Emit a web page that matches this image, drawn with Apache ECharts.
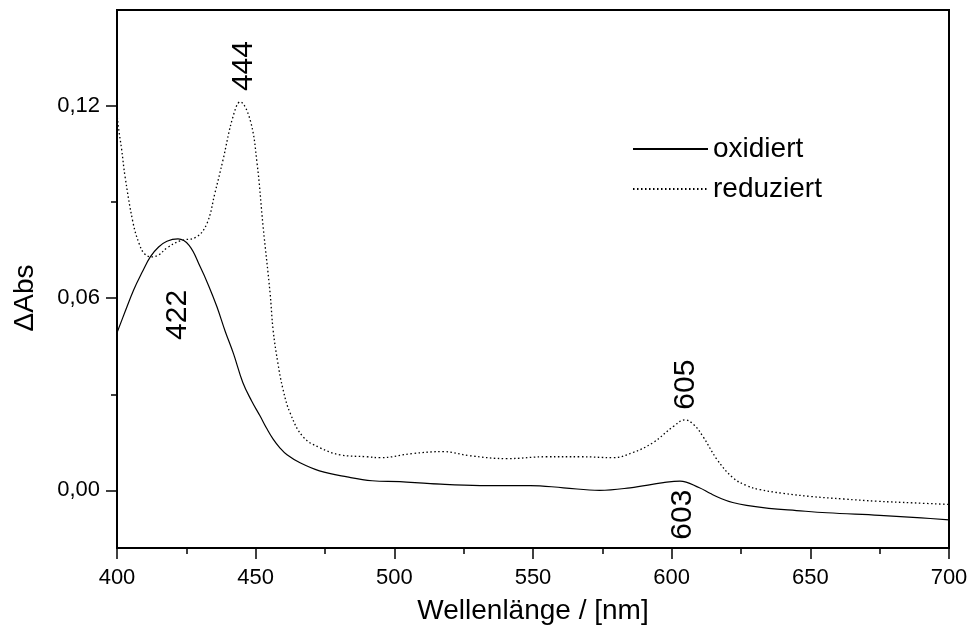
<!DOCTYPE html>
<html>
<head>
<meta charset="utf-8">
<script src="https://cdn.jsdelivr.net/npm/echarts@6/dist/echarts.min.js"></script>
<style>html,body{margin:0;padding:0;background:#fff}#main{width:968px;height:637px}</style>
</head>
<body>
<div id="main"></div>
<script>
// oxidiert (solid)
var wl_ox = [400, 403, 406, 409, 412, 415, 418, 422, 426, 430, 433, 436, 439, 442, 445.4, 448.5, 451.6, 454, 456.3, 458.8, 461.3, 466, 473, 483, 492, 502, 513, 531, 549, 561, 574, 585, 597, 603, 610, 614, 618, 622, 627, 635, 645, 656, 675, 690, 700];
var abs_ox = [0.0492, 0.0560, 0.0626, 0.0680, 0.0729, 0.0760, 0.0778, 0.0785, 0.0765, 0.0698, 0.0640, 0.0574, 0.0497, 0.0427, 0.0336, 0.0280, 0.0232, 0.0193, 0.0160, 0.0132, 0.0111, 0.0086, 0.0061, 0.0042, 0.0030, 0.0027, 0.0021, 0.0015, 0.0015, 0.0008, 0.0000, 0.0008, 0.0024, 0.0029, 0.0008, -0.0010, -0.0026, -0.0038, -0.0047, -0.0056, -0.0063, -0.0070, -0.0078, -0.0086, -0.0092];
// reduziert (dotted)
var wl_red = [400, 400.5, 401.7, 402.9, 405.8, 408, 410, 412.6, 415, 418, 422.7, 428.8, 432.5, 435.3, 438.2, 441.8, 444.4, 448, 450.5, 452.7, 455.2, 456.3, 458, 459.9, 462.4, 467.1, 473.2, 480.4, 490, 494.8, 506.7, 517.6, 527.3, 540.6, 555, 567, 578.9, 586, 593.3, 600.5, 604.8, 608, 611.3, 616.4, 622, 627, 631.9, 640, 650, 662, 674, 687, 700];
var abs_red = [0.1178, 0.1135, 0.1063, 0.0980, 0.0835, 0.0770, 0.0738, 0.0729, 0.0735, 0.0757, 0.0779, 0.0792, 0.0835, 0.0928, 0.1031, 0.1166, 0.1213, 0.1157, 0.1022, 0.0822, 0.0616, 0.0500, 0.0398, 0.0314, 0.0242, 0.0167, 0.0133, 0.0111, 0.0105, 0.0102, 0.0115, 0.0121, 0.0108, 0.0099, 0.0105, 0.0105, 0.0102, 0.0118, 0.0149, 0.0199, 0.0220, 0.0205, 0.0168, 0.0096, 0.0040, 0.0015, 0.0002, -0.0009, -0.0019, -0.0027, -0.0034, -0.0039, -0.0044];
// peak annotations
var peakText = ['444', '422', '605', '603'];
var peakX = [445.8, 422, 605.2, 604.1];
var peakY = [0.1325, 0.0548, 0.0330, -0.0076];
var yTicks = [0, 0.06, 0.12];
var yMinorTicks = [0.03, 0.09];

function zip(a, b) {
    return a.map(function (v, i) { return [v, b[i]]; });
}

var font = 'Liberation Sans, Arial, sans-serif';
var myChart = echarts.init(document.getElementById('main'));

var option = {
    animation: false,
    backgroundColor: '#fff',
    textStyle: { fontFamily: font },
    grid: {
        left: 117, right: 19, top: 10, bottom: 89,
        containLabel: false,
        outerBoundsMode: 'none',
        show: true,
        borderColor: '#000',
        borderWidth: 2
    },
    legend: {
        data: ['oxidiert', 'reduziert'],
        orient: 'vertical',
        left: 627,
        top: 129,
        itemWidth: 75,
        itemHeight: 14,
        itemGap: 10,
        itemStyle: { opacity: 0 },
        textStyle: { fontSize: 28, lineHeight: 30, color: '#000', fontFamily: font }
    },
    xAxis: {
        type: 'value',
        min: 400, max: 700, interval: 50,
        name: 'Wellenlänge / [nm]',
        nameLocation: 'middle',
        nameGap: 49,
        nameTextStyle: { fontSize: 28, color: '#000', fontFamily: font },
        axisLine: { onZero: false, lineStyle: { color: '#000', width: 2 } },
        axisTick: { length: 11, lineStyle: { color: '#000', width: 1.5 } },
        minorTick: { show: true, splitNumber: 2, length: 6, lineStyle: { color: '#000', width: 1.5 } },
        axisLabel: { fontSize: 22, color: '#000', margin: 19, fontFamily: font },
        splitLine: { show: false }
    },
    yAxis: [
        {
            type: 'value',
            min: -0.018, max: 0.15,
            position: 'left',
            axisLine: { show: true, lineStyle: { color: '#000', width: 2 } },
            axisTick: { show: true, customValues: yTicks, length: 11, lineStyle: { color: '#000', width: 1.5 } },
            axisLabel: {
                customValues: yTicks,
                fontSize: 22, color: '#000', margin: 17, fontFamily: font,
                formatter: function (v) { return v.toFixed(2).replace('.', ','); }
            },
            splitLine: { show: false }
        },
        {
            type: 'value',
            min: -0.018, max: 0.15,
            position: 'left',
            axisLine: { show: false },
            axisTick: { show: true, customValues: yMinorTicks, length: 6, lineStyle: { color: '#000', width: 1.5 } },
            axisLabel: { show: false },
            splitLine: { show: false }
        }
    ],
    graphic: [
        {
            type: 'text',
            x: 25, y: 298,
            rotation: Math.PI / 2,
            style: { text: 'ΔAbs', fontSize: 28, fill: '#000', fontFamily: font, textAlign: 'center', textVerticalAlign: 'middle' }
        }
    ],
    series: [
        {
            name: 'oxidiert',
            type: 'line',
            data: zip(wl_ox, abs_ox),
            symbol: 'none',
            smooth: 0.4,
            color: '#000',
            lineStyle: { color: '#000', width: 1.2 }
        },
        {
            name: 'reduziert',
            type: 'line',
            data: zip(wl_red, abs_red),
            symbol: 'none',
            smooth: 0.4,
            color: '#000',
            lineStyle: { color: '#000', width: 1.3, type: [1.5, 2.5] }
        },
        {
            type: 'scatter',
            silent: true,
            symbolSize: 1,
            itemStyle: { color: 'rgba(0,0,0,0)' },
            data: peakX.map(function (x, i) { return [x, peakY[i], peakText[i]]; }),
            label: {
                show: true,
                position: 'inside',
                rotate: 90,
                fontSize: 30,
                color: '#000',
                opacity: 1,
                textBorderWidth: 0,
                fontFamily: font,
                formatter: function (p) { return p.data[2]; }
            }
        }
    ]
};

myChart.setOption(option);
</script>
</body>
</html>
